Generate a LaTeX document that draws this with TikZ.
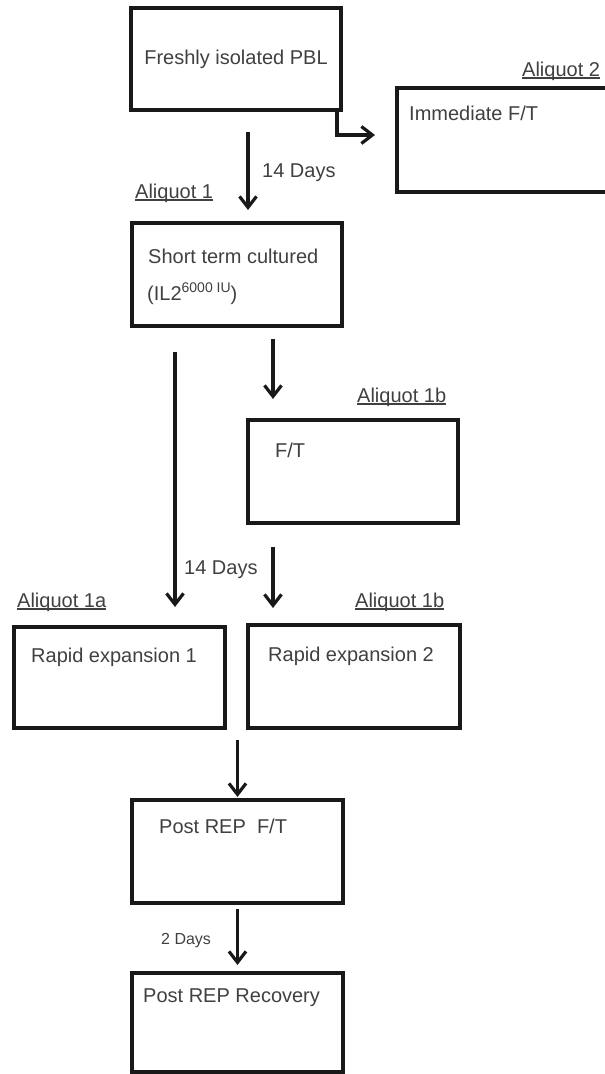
\documentclass[tikz,border=0pt]{standalone}
\usepackage{fontspec}
\setmainfont{Liberation Sans}
\usetikzlibrary{arrows.meta}

\newcommand\tagline[1]{\setbox0\hbox{#1}\rlap{\rule[-2.6pt]{\wd0}{1.4pt}}\box0}

\tikzset{
  stage/.style={draw=black!90, line width=3.4pt, inner sep=0pt, outer sep=0pt},
  txt/.style={anchor=base west, inner sep=0pt, text=black!75, font=\fontsize{20}{24}\selectfont},
  flow/.style={draw=black!90, line width=3.2pt, -{Straight Barb[length=11pt,width=17pt]}},
}

\begin{document}
\begin{tikzpicture}[x=1pt, y=-1pt]
	\useasboundingbox (0,0) rectangle (605,1074);
	\clip (0,0) rectangle (605,1074);
	% boxes
	\node[stage, minimum width=210pt, minimum height=102pt, text=black!75, font=\fontsize{20}{24}\selectfont] (fresh) at (236,59) {Freshly isolated PBL};
	\node[stage, minimum width=223pt, minimum height=104pt] (immed) at (508.5,140) {};
	\node[stage, minimum width=210pt, minimum height=103pt] (short) at (237,274.5) {};
	\node[stage, minimum width=210pt, minimum height=103pt] (ft) at (353,471.5) {};
	\node[stage, minimum width=211pt, minimum height=101pt] (rep1) at (119.5,677.5) {};
	\node[stage, minimum width=212pt, minimum height=103pt] (rep2) at (354,676.5) {};
	\node[stage, minimum width=211pt, minimum height=103pt] (postft) at (237.5,851.5) {};
	\node[stage, minimum width=211pt, minimum height=99pt] (postrec) at (237.5,1022.5) {};
	% box texts
	\node[txt] (immedtxt) at (409,120) {Immediate F/T};
	\node[txt] (shorttxt) at (148,263) {Short term cultured};
	\node[txt] (iltxt) at (147,300) {(IL2\raisebox{8pt}{\fontsize{14}{16}\selectfont 6000 IU})};
	\node[txt] (fttxt) at (275,457) {F/T};
	\node[txt] (rep1txt) at (31,662) {Rapid expansion 1};
	\node[txt] (rep2txt) at (268,661) {Rapid expansion 2};
	\node[txt] (postfttxt) at (159,833) {Post REP\ \ F/T};
	\node[txt] (postrectxt) at (143,1002) {Post REP Recovery};
	% aliquot tags
	\node[txt] (aliq2) at (522,76) {\tagline{Aliquot 2}};
	\node[txt] (aliq1) at (135,198) {\tagline{Aliquot 1}};
	\node[txt] (aliq1b) at (357,402) {\tagline{Aliquot 1b}};
	\node[txt] (aliq1a) at (17,607) {\tagline{Aliquot 1a}};
	\node[txt] (aliq1bb) at (355,607) {\tagline{Aliquot 1b}};
	% durations
	\node[txt] (days1) at (262,177) {14 Days};
	\node[txt] (days2) at (184,574) {14 Days};
	\node[txt, font=\fontsize{16}{19}\selectfont] (days3) at (161,944) {2 Days};
	% arrows
	\draw[flow, shorten <=22pt, shorten >=13pt] ([xshift=12pt]fresh.south) -- ([xshift=11pt]short.north);
	\draw[flow] ([xshift=-4pt]fresh.south east) |- ([xshift=-22pt, yshift=5pt]immed.west);
	\draw[flow, shorten <=26pt, shorten >=20pt] ([xshift=-62pt]short.south) -- ([xshift=55.5pt]rep1.north);
	\draw[flow, shorten <=13pt, shorten >=21pt] ([xshift=36pt]short.south) -- ([xshift=-80pt]ft.north);
	\draw[flow, shorten <=24pt, shorten >=17pt] ([xshift=-80pt]ft.south) -- ([xshift=-81pt]rep2.north);
	\draw[flow, shorten <=12pt, shorten >=3pt] (rep1.south east -| postft.north) -- (postft.north);
	\draw[flow, shorten <=6pt, shorten >=8pt] (postft.south) -- (postrec.north);
\end{tikzpicture}
\end{document}
